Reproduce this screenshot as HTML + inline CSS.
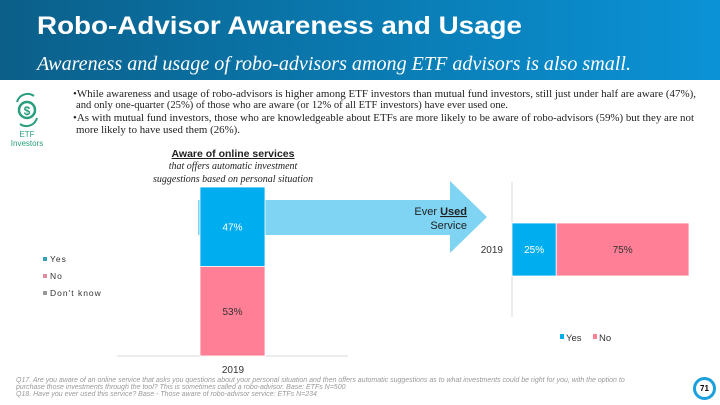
<!DOCTYPE html>
<html><head><meta charset="utf-8"><style>
body{margin:0;width:720px;height:405px;overflow:hidden;background:#fff;font-family:"Liberation Sans",sans-serif;position:relative}
.abs{position:absolute}
</style></head><body>
<div class="abs" style="left:0;top:0;width:720px;height:80px;background:linear-gradient(90deg,#0b5f89,#0a7fb8 60%,#0b92d6)"></div>
<svg class="abs" style="left:0;top:0" width="720" height="140">
<text x="37" y="34" font-size="25" font-weight="bold" fill="#fff" textLength="485" lengthAdjust="spacingAndGlyphs">Robo-Advisor Awareness and Usage</text>
<text x="37" y="70" font-size="20" font-style="italic" font-family="Liberation Serif, serif" fill="#fff" textLength="594" lengthAdjust="spacingAndGlyphs">Awareness and usage of robo-advisors among ETF advisors is also small.</text>
<g font-family="Liberation Serif, serif" font-size="10" fill="#222">
<text x="73" y="97" textLength="623" lengthAdjust="spacingAndGlyphs">•While awareness and usage of robo-advisors is higher among ETF investors than mutual fund investors, still just under half are aware (47%),</text>
<text x="76" y="108" textLength="432" lengthAdjust="spacingAndGlyphs">and only one-quarter (25%) of those who are aware (or 12% of all ETF investors) have ever used one.</text>
<text x="73" y="121" textLength="621" lengthAdjust="spacingAndGlyphs">•As with mutual fund investors, those who are knowledgeable about ETFs are more likely to be aware of robo-advisors (59%) but they are not</text>
<text x="76" y="133" textLength="164" lengthAdjust="spacingAndGlyphs">more likely to have used them (26%).</text>
</g>
</svg>
<svg class="abs" style="left:12px;top:92px" width="30" height="36" viewBox="0 0 30 36"><circle cx="15" cy="18" r="8" fill="none" stroke="#2a9d7f" stroke-width="2.5"/><text x="15" y="23" font-size="12" font-weight="bold" fill="#2a9d7f" text-anchor="middle">$</text><path d="M5 10 A11 11 0 0 1 22 4" fill="none" stroke="#2a9d7f" stroke-width="2"/><path d="M25 26 A11 11 0 0 1 8 32" fill="none" stroke="#2a9d7f" stroke-width="2"/></svg>
<div class="abs" style="left:6px;top:130px;width:42px;text-align:center;color:#2a9d7f;font-size:8px;line-height:9px">ETF<br>Investors</div>
<div class="abs" style="left:138px;top:148px;width:190px;text-align:center;font-size:10.5px;line-height:12px;color:#222"><span style="font-weight:bold;text-decoration:underline">Aware of online services</span><br><i style="font-family:'Liberation Serif',serif;font-size:10px">that offers automatic investment<br>suggestions based on personal situation</i></div>
<svg class="abs" style="left:0;top:0" width="720" height="405" id="svg"></svg>
<div class="abs" style="left:16px;top:377px;font-size:7px;line-height:7px;color:#999;font-style:italic">Q17. Are you aware of an online service that asks you questions about your personal situation and then offers automatic suggestions as to what investments could be right for you, with the option to<br>purchase those investments through the tool? This is sometimes called a robo-advisor. Base: ETFs N=500<br>Q18. Have you ever used this service? Base - Those aware of robo-advisor service: ETFs N=234</div>
<div class="abs" style="left:693px;top:377px;width:17px;height:17px;border:3px solid #1aa0dc;border-radius:50%;font-size:8px;font-weight:bold;text-align:center;line-height:17px;box-sizing:content-box">71</div>
<script>
const awareCats=['Yes','No'];
const awareVals=[47,53];
const usedCats=['Yes','No'];
const usedVals=[25,75];
const year='2019';
const colors={Yes:'#00aeef',No:'#ff7f96'};
const NS='http://www.w3.org/2000/svg';
const svg=document.getElementById('svg');
function mk(t,a,txt){const e=document.createElementNS(NS,t);for(const k in a)e.setAttribute(k,a[k]);if(txt!==undefined)e.textContent=txt;svg.appendChild(e);return e;}
// arrow
let ar=mk('polygon',{points:'198,200 450,200 450,181 487,217 450,253 450,235 198,235',fill:'#7fd4f4'});


let t1=mk('text',{x:467,y:215,'font-size':11,'text-anchor':'end',fill:'#222'},'');
t1.innerHTML='Ever <tspan font-weight="bold" text-decoration="underline">Used</tspan>';


let t2=mk('text',{x:467,y:229,'font-size':11,'text-anchor':'end',fill:'#222'},'Service');


// left stacked column
const lTop=187,lBot=356;
const ly=v=>lBot-(v/100)*(lBot-lTop);
let l=mk('line',{x1:117,y1:356,x2:348,y2:356,stroke:'#d9d9d9'});


let cum=0;
awareCats.forEach((c,i)=>{const v=awareVals[i];const y0=ly(100-cum),y1=ly(100-cum-v);
 const r=mk('rect',{x:200,y:y0,width:65,height:y1-y0,fill:colors[c],stroke:'#fff','stroke-width':0.8});
 
 
 const t=mk('text',{x:232.5,y:(y0+y1)/2+4,'font-size':10,'text-anchor':'middle',fill:c==='Yes'?'#fff':'#333'},v+'%');
 
 
 cum+=v;});
let yl=mk('text',{x:233,y:373,'font-size':10,'text-anchor':'middle',fill:'#333'},year);


// left legend
[['Yes','#3a9fb5'],['No','#e08aa0'],["Don't know",'#999']].forEach((d,i)=>{
 const y=261+i*17;
 const s=mk('rect',{x:43,y:y-4,width:4,height:4,fill:d[1]});
 
 
 const t=mk('text',{x:50,y:y+1,'font-size':8.5,fill:'#333','letter-spacing':'1'},d[0]);
 
 });
// right horizontal stacked bar
const rx0=512,rx1=689;
const rx=v=>rx0+(v/100)*(rx1-rx0);
let ra=mk('line',{x1:512,y1:182,x2:512,y2:317,stroke:'#d9d9d9'});


cum=0;
usedCats.forEach((c,i)=>{const v=usedVals[i];const x0=rx(cum),x1=rx(cum+v);
 const r=mk('rect',{x:x0,y:223,width:x1-x0,height:53,fill:colors[c],stroke:'#fff','stroke-width':0.8});
 
 
 const t=mk('text',{x:(x0+x1)/2,y:253,'font-size':10,'text-anchor':'middle',fill:c==='Yes'?'#fff':'#333'},v+'%');
 
 
 cum+=v;});
let ry=mk('text',{x:503,y:253,'font-size':10,'text-anchor':'end',fill:'#333'},year);


[['Yes',560],['No',593]].forEach(d=>{
 const s=mk('rect',{x:d[1],y:334,width:4,height:5,fill:colors[d[0]]});
 
 
 const t=mk('text',{x:d[1]+6,y:341,'font-size':9.5,fill:'#333'},d[0]);
 
 });
</script>
</body></html>
